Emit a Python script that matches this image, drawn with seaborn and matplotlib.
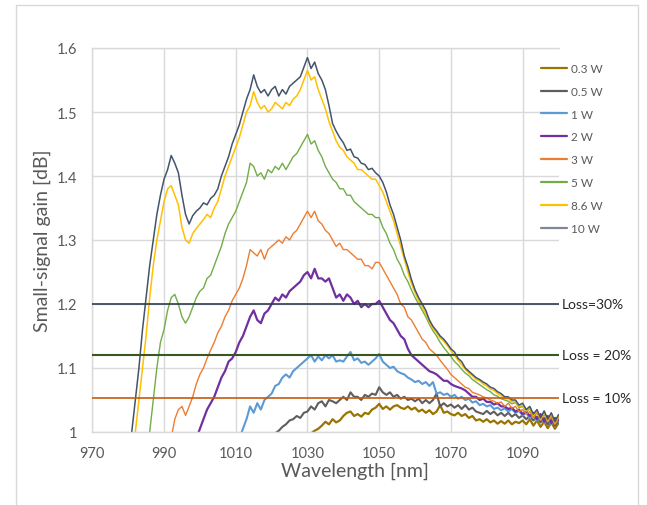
import numpy as np
import pandas as pd
import matplotlib
matplotlib.use("Agg")
import matplotlib.pyplot as plt
import seaborn as sns
from matplotlib.patches import Rectangle
from matplotlib.lines import Line2D

# ---------------- data (1 nm sampling) ----------------
labels = ["0.3 W", "0.5 W", "1 W", "2 W", "3 W", "5 W", "8.6 W", "10 W"]
start_nm = [1031, 1021, 1011, 999, 992, 985, 981, 980]

g_0p3 = [0.998, 1.002, 1.005, 1.01, 1.016, 1.012, 1.02, 1.015, 1.018, 1.025,
         1.03, 1.032, 1.025, 1.028, 1.024, 1.03, 1.028, 1.035, 1.038, 1.044,
         1.036, 1.04, 1.035, 1.04, 1.042, 1.038, 1.036, 1.04, 1.035, 1.038,
         1.032, 1.035, 1.03, 1.034, 1.028, 1.032, 1.042, 1.03, 1.032, 1.028,
         1.026, 1.03, 1.025, 1.028, 1.022, 1.025, 1.018, 1.02, 1.016, 1.02,
         1.015, 1.018, 1.013, 1.017, 1.013, 1.018, 1.012, 1.016, 1.014, 1.018,
         1.012, 1.02, 1.01, 1.018, 1.008, 1.016, 1.006, 1.015, 1.005, 1.014]

g_0p5 = [0.998, 1.002, 1.008, 1.012, 1.018, 1.02, 1.025, 1.022, 1.03, 1.032,
         1.04, 1.035, 1.045, 1.048, 1.04, 1.05, 1.048, 1.045, 1.05, 1.055,
         1.05, 1.062, 1.055, 1.055, 1.05, 1.058, 1.055, 1.06, 1.058, 1.07,
         1.062, 1.058, 1.062, 1.055, 1.058, 1.052, 1.055, 1.05, 1.052, 1.048,
         1.052, 1.045, 1.05, 1.045, 1.05, 1.06, 1.04, 1.045, 1.04, 1.043,
         1.038, 1.042, 1.036, 1.042, 1.035, 1.038, 1.032, 1.03, 1.028, 1.033,
         1.028, 1.032, 1.026, 1.03, 1.025, 1.03, 1.024, 1.028, 1.022, 1.026,
         1.02, 1.025, 1.018, 1.024, 1.015, 1.022, 1.012, 1.02, 1.01, 1.018]

g_1 = [0.99, 1.005, 1.02, 1.04, 1.03, 1.045, 1.035, 1.05, 1.055, 1.06,
       1.072, 1.075, 1.085, 1.09, 1.085, 1.095, 1.10, 1.105, 1.11, 1.115,
       1.12, 1.11, 1.118, 1.112, 1.12, 1.115, 1.12, 1.11, 1.112, 1.11,
       1.118, 1.125, 1.112, 1.115, 1.108, 1.11, 1.105, 1.11, 1.115, 1.122,
       1.11, 1.105, 1.10, 1.102, 1.095, 1.092, 1.09, 1.085, 1.082, 1.078,
       1.08, 1.075, 1.078, 1.072, 1.078, 1.06, 1.062, 1.058, 1.06, 1.055,
       1.058, 1.052, 1.055, 1.05, 1.052, 1.046, 1.048, 1.042, 1.044, 1.04,
       1.042, 1.036, 1.038, 1.034, 1.037, 1.032, 1.036, 1.03, 1.033, 1.026,
       1.03, 1.022, 1.028, 1.018, 1.026, 1.014, 1.024, 1.012, 1.02, 1.016]

g_2 = [0.99, 1.005, 1.02, 1.035, 1.045, 1.055, 1.07, 1.085, 1.095, 1.11,
       1.115, 1.125, 1.14, 1.15, 1.165, 1.18, 1.19, 1.175, 1.17, 1.185,
       1.19, 1.20, 1.21, 1.205, 1.215, 1.21, 1.22, 1.225, 1.23, 1.235,
       1.245, 1.25, 1.24, 1.255, 1.24, 1.24, 1.235, 1.24, 1.225, 1.21,
       1.215, 1.205, 1.215, 1.21, 1.20, 1.205, 1.195, 1.20, 1.195, 1.20,
       1.20, 1.205, 1.195, 1.185, 1.175, 1.17, 1.16, 1.15, 1.145, 1.13,
       1.12, 1.115, 1.11, 1.105, 1.10, 1.095, 1.093, 1.09, 1.085, 1.08,
       1.08, 1.075, 1.072, 1.07, 1.068, 1.065, 1.06, 1.055, 1.055, 1.05,
       1.052, 1.047, 1.047, 1.043, 1.045, 1.04, 1.04, 1.036, 1.038, 1.032,
       1.035, 1.028, 1.032, 1.025, 1.03, 1.02, 1.028, 1.016, 1.025, 1.014,
       1.022, 1.018]

g_3 = [0.99, 1.02, 1.035, 1.04, 1.026, 1.04, 1.055, 1.075, 1.09, 1.10,
       1.115, 1.128, 1.14, 1.155, 1.165, 1.18, 1.19, 1.205, 1.215, 1.225,
       1.24, 1.26, 1.285, 1.28, 1.275, 1.285, 1.27, 1.285, 1.29, 1.295,
       1.30, 1.295, 1.305, 1.30, 1.31, 1.315, 1.325, 1.335, 1.345, 1.335,
       1.345, 1.33, 1.325, 1.315, 1.31, 1.30, 1.29, 1.295, 1.285, 1.285,
       1.28, 1.275, 1.27, 1.27, 1.26, 1.26, 1.255, 1.265, 1.265, 1.255,
       1.245, 1.235, 1.225, 1.215, 1.20, 1.195, 1.18, 1.175, 1.165, 1.155,
       1.145, 1.14, 1.13, 1.125, 1.12, 1.112, 1.105, 1.098, 1.09, 1.085,
       1.08, 1.075, 1.07, 1.068, 1.062, 1.06, 1.058, 1.055, 1.053, 1.05,
       1.048, 1.045, 1.047, 1.04, 1.045, 1.037, 1.04, 1.032, 1.035, 1.028,
       1.032, 1.022, 1.03, 1.018, 1.028, 1.016, 1.024, 1.012, 1.022]

g_5 = [0.96, 1.00, 1.05, 1.10, 1.14, 1.16, 1.19, 1.21, 1.215, 1.20,
       1.18, 1.17, 1.18, 1.195, 1.21, 1.22, 1.225, 1.24, 1.245, 1.26,
       1.275, 1.29, 1.31, 1.325, 1.335, 1.345, 1.36, 1.375, 1.39, 1.42,
       1.415, 1.40, 1.405, 1.395, 1.41, 1.405, 1.415, 1.41, 1.42, 1.41,
       1.42, 1.43, 1.435, 1.445, 1.455, 1.465, 1.45, 1.455, 1.44, 1.43,
       1.415, 1.405, 1.395, 1.39, 1.38, 1.38, 1.37, 1.37, 1.36, 1.355,
       1.35, 1.345, 1.34, 1.34, 1.335, 1.335, 1.32, 1.31, 1.295, 1.285,
       1.27, 1.26, 1.245, 1.235, 1.222, 1.21, 1.20, 1.19, 1.18, 1.168,
       1.158, 1.15, 1.14, 1.132, 1.125, 1.118, 1.11, 1.105, 1.098, 1.092,
       1.088, 1.082, 1.078, 1.074, 1.07, 1.066, 1.063, 1.058, 1.056, 1.052,
       1.05, 1.048, 1.044, 1.046, 1.038, 1.04, 1.032, 1.036, 1.025, 1.032,
       1.02, 1.03, 1.018, 1.026, 1.014, 1.024]

g_8p6 = [0.97, 1.00, 1.05, 1.10, 1.15, 1.21, 1.26, 1.30, 1.33, 1.36,
         1.38, 1.385, 1.37, 1.355, 1.32, 1.30, 1.295, 1.31, 1.318, 1.325,
         1.332, 1.34, 1.335, 1.35, 1.36, 1.38, 1.40, 1.415, 1.43, 1.445,
         1.46, 1.48, 1.50, 1.51, 1.532, 1.515, 1.505, 1.51, 1.50, 1.505,
         1.515, 1.51, 1.505, 1.515, 1.51, 1.52, 1.525, 1.535, 1.55, 1.565,
         1.55, 1.555, 1.535, 1.52, 1.505, 1.485, 1.47, 1.455, 1.445, 1.44,
         1.43, 1.425, 1.42, 1.41, 1.41, 1.405, 1.40, 1.395, 1.395, 1.385,
         1.375, 1.36, 1.345, 1.33, 1.31, 1.29, 1.27, 1.25, 1.232, 1.218,
         1.205, 1.195, 1.185, 1.172, 1.162, 1.155, 1.147, 1.142, 1.135, 1.127,
         1.12, 1.112, 1.105, 1.098, 1.092, 1.088, 1.082, 1.08, 1.075, 1.072,
         1.067, 1.065, 1.06, 1.057, 1.052, 1.052, 1.047, 1.048, 1.04, 1.042,
         1.033, 1.038, 1.026, 1.033, 1.02, 1.031, 1.018, 1.028, 1.014, 1.025]

g_10 = [0.97, 1.00, 1.05, 1.10, 1.16, 1.21, 1.26, 1.30, 1.34, 1.37,
        1.395, 1.41, 1.432, 1.42, 1.405, 1.37, 1.34, 1.325, 1.338, 1.345,
        1.35, 1.358, 1.355, 1.365, 1.37, 1.38, 1.40, 1.415, 1.43, 1.45,
        1.465, 1.48, 1.50, 1.52, 1.535, 1.558, 1.54, 1.53, 1.535, 1.525,
        1.535, 1.54, 1.525, 1.535, 1.528, 1.54, 1.545, 1.55, 1.555, 1.57,
        1.585, 1.568, 1.578, 1.56, 1.55, 1.535, 1.51, 1.482, 1.47, 1.46,
        1.452, 1.44, 1.442, 1.43, 1.428, 1.42, 1.418, 1.41, 1.412, 1.405,
        1.40, 1.39, 1.375, 1.355, 1.34, 1.32, 1.30, 1.275, 1.258, 1.238,
        1.222, 1.21, 1.20, 1.19, 1.175, 1.165, 1.158, 1.15, 1.145, 1.138,
        1.13, 1.125, 1.115, 1.11, 1.10, 1.095, 1.09, 1.085, 1.082, 1.078,
        1.075, 1.07, 1.068, 1.063, 1.06, 1.055, 1.055, 1.05, 1.05, 1.042,
        1.045, 1.035, 1.04, 1.028, 1.035, 1.022, 1.033, 1.02, 1.03, 1.016,
        1.027]

series_values = [g_0p3, g_0p5, g_1, g_2, g_3, g_5, g_8p6, g_10]

loss_labels = ["Loss=30%", "Loss = 20%", "Loss = 10%"]
loss_levels = [1.2, 1.12, 1.053]

x_ticks = [970, 990, 1010, 1030, 1050, 1070, 1090]
y_ticks = [1.0, 1.1, 1.2, 1.3, 1.4, 1.5, 1.6]
y_ticklabels = ["1", "1.1", "1.2", "1.3", "1.4", "1.5", "1.6"]

# ---------------- styles ----------------
colors = ["#9A7400", "#5E5E5E", "#5B9BD5", "#7030A0", "#ED7D31", "#70AD47", "#FFC000", "#44546A"]
legend_colors = ["#9A7400", "#5E5E5E", "#5B9BD5", "#7030A0", "#ED7D31", "#70AD47", "#FFC000", "#7F8796"]
widths = [1.6, 1.5, 1.5, 1.6, 1.0, 1.0, 1.1, 1.1]
loss_colors = ["#2E3B4E", "#385723", "#C55A11"]
loss_widths = [1.2, 1.5, 1.2]

rows = []
for lab, st, vals in zip(labels, start_nm, series_values):
    for i, v in enumerate(vals):
        rows.append((lab, st + i, v))
df = pd.DataFrame(rows, columns=["power", "wavelength", "gain"])

sns.set_style("white")
plt.rcParams["font.family"] = ["Lato", "DejaVu Sans"]

fig = plt.figure(figsize=(6.47, 5.06), dpi=100)
ax = fig.add_axes([92.3 / 647, 1 - 433 / 506, (558.5 - 92.3) / 647, (433 - 49) / 506])

for lab, col, lw in zip(labels, colors, widths):
    sns.lineplot(data=df[df["power"] == lab], x="wavelength", y="gain", color=col,
                 linewidth=lw, ax=ax, legend=False, estimator=None, sort=True)

for lvl, col, lw in zip(loss_levels, loss_colors, loss_widths):
    ax.axhline(lvl, color=col, linewidth=lw, zorder=5)

ax.set_xlim(970, 1100)
ax.set_ylim(1.0, 1.6)
ax.set_xticks(x_ticks)
ax.set_yticks(y_ticks)
ax.set_yticklabels(y_ticklabels)
ax.grid(True, color="#D9D9D9", linewidth=1.0)
ax.set_axisbelow(True)
for side in ["left", "top", "bottom"]:
    ax.spines[side].set_visible(True)
    ax.spines[side].set_color("#D9D9D9")
    ax.spines[side].set_linewidth(1.0)
ax.spines["right"].set_visible(False)
ax.tick_params(axis="both", length=0, labelsize=10.5, colors="#595959")
ax.tick_params(axis="y", pad=11)
ax.tick_params(axis="x", pad=10)

ax.set_xlabel("Wavelength [nm]", fontsize=14, color="#595959")
ax.set_ylabel("Small-signal gain [dB]", fontsize=14, color="#595959")
ax.xaxis.label.set_va("center")
ax.xaxis.set_label_coords(0.5635, -0.101)
ax.yaxis.label.set_va("center")
ax.yaxis.set_label_coords(-0.108, 0.5)

for lab, lvl in zip(loss_labels, loss_levels):
    ax.text(1.008, lvl, lab, transform=ax.get_yaxis_transform(), ha="left", va="center",
            fontsize=10, color="#262626", clip_on=False)

handles = [Line2D([0], [0], color=c, linewidth=1.6) for c in legend_colors]
fig.legend(handles, labels, loc="upper left", bbox_to_anchor=(541 / 647, 1 - 64 / 506),
           frameon=False, fontsize=8.5, labelcolor="#595959", handlelength=2.2,
           handletextpad=0.3, labelspacing=1.0, borderpad=0, borderaxespad=0)

fig.patches.append(Rectangle((15.7 / 647, -0.05), (638 - 15.7) / 647, 0.05 + 1 - 5.7 / 506,
                             transform=fig.transFigure, fill=False, edgecolor="#D9D9D9",
                             linewidth=1.0))

fig.savefig("out.png", dpi=100)
